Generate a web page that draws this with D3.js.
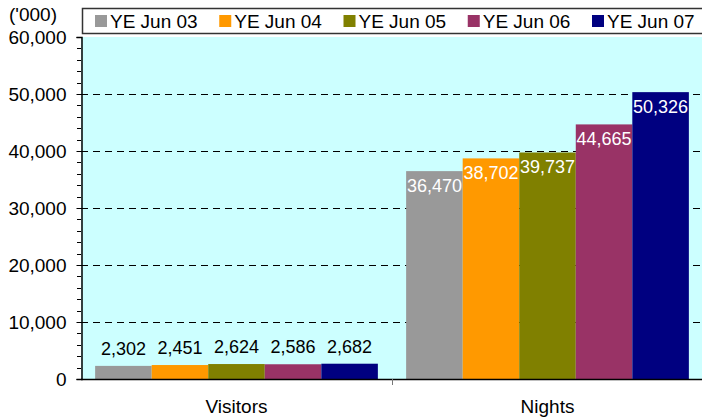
<!DOCTYPE html>
<html>
<head>
<meta charset="utf-8">
<script src="https://cdn.jsdelivr.net/npm/d3@7"></script>
<style>
  body { margin: 0; background: #fff; }
  text { font-family: Arial, "Liberation Sans", sans-serif; }
</style>
</head>
<body>
<div id="chart"></div>
<script>
// data
var categories = ["Visitors", "Nights"];
var seriesNames = ["YE Jun 03", "YE Jun 04", "YE Jun 05", "YE Jun 06", "YE Jun 07"];
var visitors = [2302, 2451, 2624, 2586, 2682];
var nights = [36470, 38702, 39737, 44665, 50326];
var yTicks = [0, 10000, 20000, 30000, 40000, 50000, 60000];
var colors = ["#999999", "#FF9900", "#808000", "#993366", "#000080"];

var width = 702, height = 418;
var plot = {left: 81, right: 703, top: 37, bottom: 379};
var fontSize = "19px";

var svg = d3.select("#chart").append("svg")
  .attr("width", width)
  .attr("height", height);

// table built from the arrays
var rows = categories.map(function(c, i) {
  var vals = i === 0 ? visitors : nights;
  return {cat: c, values: seriesNames.map(function(s, j) { return {series: s, value: vals[j], idx: j}; })};
});

var x0 = d3.scaleBand()
  .domain(categories)
  .range([plot.left, plot.right])
  .padding(0);

var x1 = d3.scaleBand()
  .domain(seriesNames)
  .range([0, x0.bandwidth()])
  .paddingInner(0)
  .paddingOuter(0.25);

var y = d3.scaleLinear()
  .domain([0, 60000])
  .range([plot.bottom, plot.top]);

// plot background
svg.append("rect")
  .attr("x", plot.left)
  .attr("y", plot.top)
  .attr("width", plot.right - plot.left)
  .attr("height", plot.bottom - plot.top)
  .attr("fill", "#CCFFFF");

// dashed gridlines
svg.append("g").selectAll("line")
  .data(yTicks.filter(function(t) { return t > 0 && t < 60000; }))
  .enter().append("line")
    .attr("x1", plot.left)
    .attr("x2", plot.right)
    .attr("y1", function(d) { return Math.round(y(d)) + 0.5; })
    .attr("y2", function(d) { return Math.round(y(d)) + 0.5; })
    .attr("stroke", "#000")
    .attr("stroke-width", 1)
    .attr("stroke-dasharray", "7,5");

// bars
var groups = svg.append("g").selectAll("g")
  .data(rows)
  .enter().append("g")
    .attr("transform", function(d) { return "translate(" + x0(d.cat) + ",0)"; });

groups.selectAll("rect")
  .data(function(d) { return d.values; })
  .enter().append("rect")
    .attr("x", function(d) { return x1(d.series); })
    .attr("y", function(d) { return y(d.value); })
    .attr("width", x1.bandwidth())
    .attr("height", function(d) { return y(0) - y(d.value); })
    .attr("fill", function(d) { return colors[d.idx]; });

// value labels: above for Visitors, inside for Nights
groups.each(function(row, i) {
  d3.select(this).selectAll("text.val")
    .data(row.values)
    .enter().append("text")
      .attr("class", "val")
      .attr("x", function(d) { return x1(d.series) + x1.bandwidth() / 2; })
      .attr("y", function(d) { return i === 0 ? y(d.value) - 11 : y(d.value) + 21; })
      .attr("text-anchor", "middle")
      .attr("font-size", "18px")
      .attr("fill", i === 0 ? "#000" : "#fff")
      .text(function(d) { return d3.format(",")(d.value); });
});

// y axis
var yAxis = svg.append("g")
  .attr("transform", "translate(" + (plot.left + 0.5) + ",0)")
  .call(d3.axisLeft(y).tickValues(yTicks).tickFormat(d3.format(",")).tickSize(5).tickPadding(10));
yAxis.select(".domain").attr("stroke", "#000").attr("stroke-width", 1.5);
yAxis.selectAll(".tick text")
  .attr("font-size", fontSize)
  .attr("fill", "#000")
  .attr("font-family", "Arial, 'Liberation Sans', sans-serif");

// minor ticks
svg.append("g").selectAll("line")
  .data(d3.range(0, 60001, 2000).filter(function(t) { return t % 10000 !== 0; }))
  .enter().append("line")
    .attr("x1", plot.left - 4)
    .attr("x2", plot.left)
    .attr("y1", function(d) { return Math.round(y(d)) + 0.5; })
    .attr("y2", function(d) { return Math.round(y(d)) + 0.5; })
    .attr("stroke", "#000");

// x axis
svg.append("line")
  .attr("x1", plot.left)
  .attr("x2", plot.right)
  .attr("y1", plot.bottom + 0.5)
  .attr("y2", plot.bottom + 0.5)
  .attr("stroke", "#000")
  .attr("stroke-width", 1.5);

svg.append("line")
  .attr("x1", x0("Nights") + 0.5)
  .attr("x2", x0("Nights") + 0.5)
  .attr("y1", plot.bottom)
  .attr("y2", plot.bottom + 6)
  .attr("stroke", "#777");

svg.append("g").selectAll("text")
  .data(categories)
  .enter().append("text")
    .attr("x", function(d) { return x0(d) + x0.bandwidth() / 2; })
    .attr("y", 413)
    .attr("text-anchor", "middle")
    .attr("font-size", fontSize)
    .text(function(d) { return d; });

// unit label
svg.append("text")
  .attr("x", 9)
  .attr("y", 21)
  .attr("font-size", fontSize)
  .text("('000)");

// legend
var legend = svg.append("g");
legend.append("rect")
  .attr("x", 82.5)
  .attr("y", 8.5)
  .attr("width", 640)
  .attr("height", 25)
  .attr("fill", "#fff")
  .attr("stroke", "#333")
  .attr("stroke-width", 1.5);

var legendX = d3.scalePoint()
  .domain(seriesNames)
  .range([95, 592]);

var item = legend.selectAll("g.item")
  .data(seriesNames)
  .enter().append("g")
    .attr("class", "item")
    .attr("transform", function(d) { return "translate(" + legendX(d) + ",0)"; });

item.append("rect")
  .attr("x", 0)
  .attr("y", 15)
  .attr("width", 12)
  .attr("height", 12)
  .attr("fill", function(d, i) { return colors[i]; });

item.append("text")
  .attr("x", 15)
  .attr("y", 27.5)
  .attr("font-size", fontSize)
  .text(function(d) { return d; });
</script>
</body>
</html>
